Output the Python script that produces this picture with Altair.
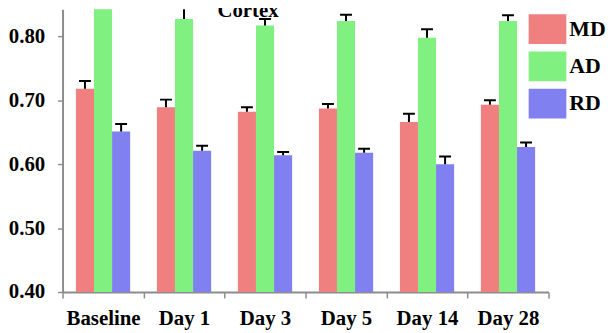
import altair as alt
import pandas as pd

categories = ["Baseline", "Day 1", "Day 3", "Day 5", "Day 14", "Day 28"]
measures = ["MD", "AD", "RD"]
md_mean = [0.718, 0.689, 0.682, 0.687, 0.666, 0.693]
md_err = [0.012, 0.012, 0.007, 0.007, 0.013, 0.007]
ad_mean = [0.851, 0.827, 0.817, 0.824, 0.798, 0.824]
ad_err = [0.012, 0.018, 0.010, 0.010, 0.013, 0.009]
rd_mean = [0.651, 0.621, 0.614, 0.618, 0.600, 0.627]
rd_err = [0.012, 0.008, 0.005, 0.006, 0.012, 0.007]
colors = ["#F08080", "#80F080", "#8080F0"]
y_ticks = [0.4, 0.5, 0.6, 0.7, 0.8]
title_text = ["Cortex"]

rows = []
for m, means, errs in zip(measures, [md_mean, ad_mean, rd_mean], [md_err, ad_err, rd_err]):
    for c, v, e in zip(categories, means, errs):
        rows.append({"day": c, "measure": m, "value": v, "upper": round(v + e, 4)})
df = pd.DataFrame(rows)

FONT = "Liberation Serif"
AXIS_GRAY = "#8c8c8c"

x = alt.X(
    "day:N", sort=categories, title=None,
    scale=alt.Scale(paddingInner=0, paddingOuter=0),
    axis=alt.Axis(labelAngle=0, tickBand="extent", tickSize=6, labelPadding=10,
                  labelFont=FONT, labelFontSize=21, labelFontWeight="bold",
                  labelColor="black", domainColor=AXIS_GRAY, domainWidth=2,
                  tickColor=AXIS_GRAY, tickWidth=1.5, grid=False),
)
xoff = alt.XOffset("measure:N", sort=measures,
                   scale=alt.Scale(paddingInner=0, paddingOuter=0.74))
y = alt.Y(
    "value:Q", title=None,
    scale=alt.Scale(domain=[0.40, 0.8423], zero=False, nice=False),
    axis=alt.Axis(values=y_ticks, format=".2f", tickSize=5, labelPadding=13,
                  labelFont=FONT, labelFontSize=21, labelFontWeight="bold",
                  labelColor="black", domainColor=AXIS_GRAY, domainWidth=2,
                  tickColor=AXIS_GRAY, tickWidth=1.5, grid=False),
)
color = alt.Color(
    "measure:N", sort=measures,
    scale=alt.Scale(domain=measures, range=colors),
    legend=alt.Legend(orient="none", legendX=470, legendY=1, title=None,
                      symbolType="M-1,-0.79H1V0.79H-1Z", symbolSize=1444,
                      symbolStrokeWidth=0, symbolOpacity=1,
                      labelFont=FONT, labelFontSize=22, labelFontWeight="bold",
                      labelColor="black", labelOffset=3, rowPadding=2.5, padding=0),
)

bars = alt.Chart(df).mark_bar(clip=True, opacity=1).encode(
    x=x, xOffset=xoff, y=y, color=color
)
stems = alt.Chart(df).mark_rule(color="black", strokeWidth=2, clip=True).encode(
    x=x, xOffset=xoff, y="value:Q", y2="upper:Q"
)
caps = alt.Chart(df).mark_tick(color="black", thickness=2, size=12, clip=True, opacity=1).encode(
    x=x, xOffset=xoff, y="upper:Q"
)
title = alt.Chart(pd.DataFrame({"t": title_text})).mark_text(
    font=FONT, fontSize=21, fontWeight="bold", color="black",
    align="center", baseline="alphabetic"
).encode(text="t:N", x=alt.value(187), y=alt.value(8))

chart = alt.layer(bars, stems, caps, title).properties(
    width=490, height=285,
    autosize=alt.AutoSizeParams(type="none"),
    padding={"left": 55, "top": 0, "right": 60, "bottom": 38},
).configure_view(stroke=None)

chart.save("out.html", embed_options={"renderer": "svg", "actions": False})
